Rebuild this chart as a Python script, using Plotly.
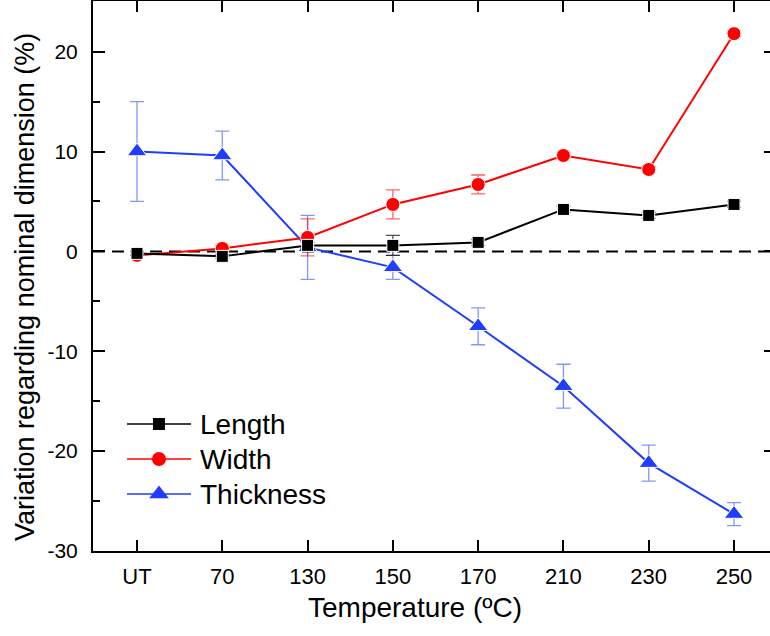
import plotly.graph_objects as go

categories = ["UT", "70", "130", "150", "170", "210", "230", "250"]
length_vals = [-0.2, -0.5, 0.6, 0.6, 0.9, 4.2, 3.6, 4.7]
length_err = [0.2, 0.2, 0.3, 1.0, 0.3, 0.3, 0.3, 0.3]
width_vals = [-0.4, 0.3, 1.4, 4.7, 6.7, 9.6, 8.2, 21.8]
width_err = [0.2, 0.3, 1.85, 1.45, 0.95, 0.3, 0.3, 0.3]
thick_vals = [10.0, 9.6, 0.4, -1.6, -7.5, -13.5, -21.2, -26.3]
thick_err = [5.0, 2.45, 3.2, 1.2, 1.85, 2.2, 1.8, 1.15]
y_ticks = [-30, -20, -10, 0, 10, 20]
y_ticktext = ["-30", "-20", "-10", "0", "10", "20"]

FONT = "Liberation Sans, Arial, sans-serif"
BLUE = "#1f3dff"
RED = "#ff0000"
BLACK = "#000000"

xidx = list(range(len(categories)))

fig = go.Figure()

series = [
    ("Thickness", thick_vals, thick_err, BLUE, "rgba(31,61,255,0.55)", "triangle-up", 17),
    ("Width", width_vals, width_err, RED, "rgba(255,0,0,0.6)", "circle", 14),
    ("Length", length_vals, length_err, BLACK, "rgba(0,0,0,0.7)", "square", 12),
]
for name, vals, err, col, ecol, sym, sz in series:
    fig.add_trace(go.Scatter(
        x=xidx, y=vals, name=name, mode="lines+markers",
        line=dict(color=col, width=2),
        marker=dict(symbol=sym, size=sz, color=col, line=dict(color="white", width=1)),
        error_y=dict(type="data", array=err, visible=True, color=ecol, thickness=1.3, width=7),
        showlegend=False,
    ))

# plot area in pixels
L, R, T, B = 93, 770, 1, 551
PW, PH = R - L, B - T

def px(x):
    return (x - L) / PW

def py(y):
    return (B - y) / PH

# manual legend on a pixel-space overlay axis
leg_items = [("Length", BLACK, "square", 12, 424), ("Width", RED, "circle", 14, 459), ("Thickness", BLUE, "triangle-up", 17, 494)]
for name, col, sym, sz, yy in leg_items:
    fig.add_trace(go.Scatter(x=[127, 191], y=[yy, yy], mode="lines", line=dict(color=col, width=1.6),
                             xaxis="x3", yaxis="y3", showlegend=False, hoverinfo="skip"))
    fig.add_trace(go.Scatter(x=[159], y=[yy], mode="markers", marker=dict(symbol=sym, size=sz, color=col),
                             xaxis="x3", yaxis="y3", showlegend=False, hoverinfo="skip"))
    fig.add_annotation(x=px(198), y=py(yy), xref="paper", yref="paper", text=name, showarrow=False,
                       xanchor="left", yanchor="middle", font=dict(family=FONT, size=28, color="black"))

# axis titles
fig.add_annotation(x=px(415), y=py(608), xref="paper", yref="paper", text="Temperature (ºC)", showarrow=False,
                   xanchor="center", yanchor="middle", font=dict(family=FONT, size=28, color="black"))
fig.add_annotation(x=px(25), y=py(287), xref="paper", yref="paper", text="Variation regarding nominal dimension (%)",
                   showarrow=False, textangle=-90, xanchor="center", yanchor="middle",
                   font=dict(family=FONT, size=27, color="black"))

# invisible trace for right-side tick axis
fig.add_trace(go.Scatter(x=[0], y=[0], yaxis="y2", mode="markers", marker=dict(opacity=0),
                         showlegend=False, hoverinfo="skip"))

fig.add_shape(type="line", xref="paper", yref="y", x0=0, x1=1, y0=0, y1=0,
              line=dict(color="black", width=2, dash="12px,7px"), layer="below")

xr = [-0.516, 7.422]
yr = [-30, 25.07]
fig.update_layout(
    width=770, height=636,
    margin=dict(l=L, r=770 - R, t=T, b=636 - B),
    paper_bgcolor="white", plot_bgcolor="white",
    font=dict(family=FONT, color="black"),
    xaxis=dict(
        range=xr, tickmode="array", tickvals=xidx, ticktext=categories,
        ticks="inside", ticklen=11, tickwidth=2, tickcolor="black",
        showline=True, linewidth=2, linecolor="black", mirror="ticks",
        showgrid=False, zeroline=False,
        tickfont=dict(size=22), ticklabelstandoff=5,
    ),
    yaxis=dict(
        range=yr, tickmode="array", tickvals=y_ticks, ticktext=y_ticktext,
        ticks="inside", ticklen=12, tickwidth=2, tickcolor="black",
        minor=dict(ticks="inside", ticklen=7, tickwidth=2, tickcolor="black", dtick=5, showgrid=False),
        showline=True, linewidth=2, linecolor="black",
        showgrid=False, zeroline=False,
        tickfont=dict(size=21), ticklabelstandoff=9,
    ),
    yaxis2=dict(
        range=yr, overlaying="y", side="right", anchor="x", tickmode="array", tickvals=y_ticks,
        ticks="inside", ticklen=6, tickwidth=2, tickcolor="black",
        showticklabels=False, showline=False, showgrid=False, zeroline=False,
    ),
    xaxis3=dict(range=[L, R], overlaying="x", anchor="y3", visible=False),
    yaxis3=dict(range=[B, T], overlaying="y", anchor="x3", visible=False),
)

fig.write_html("out.html")
